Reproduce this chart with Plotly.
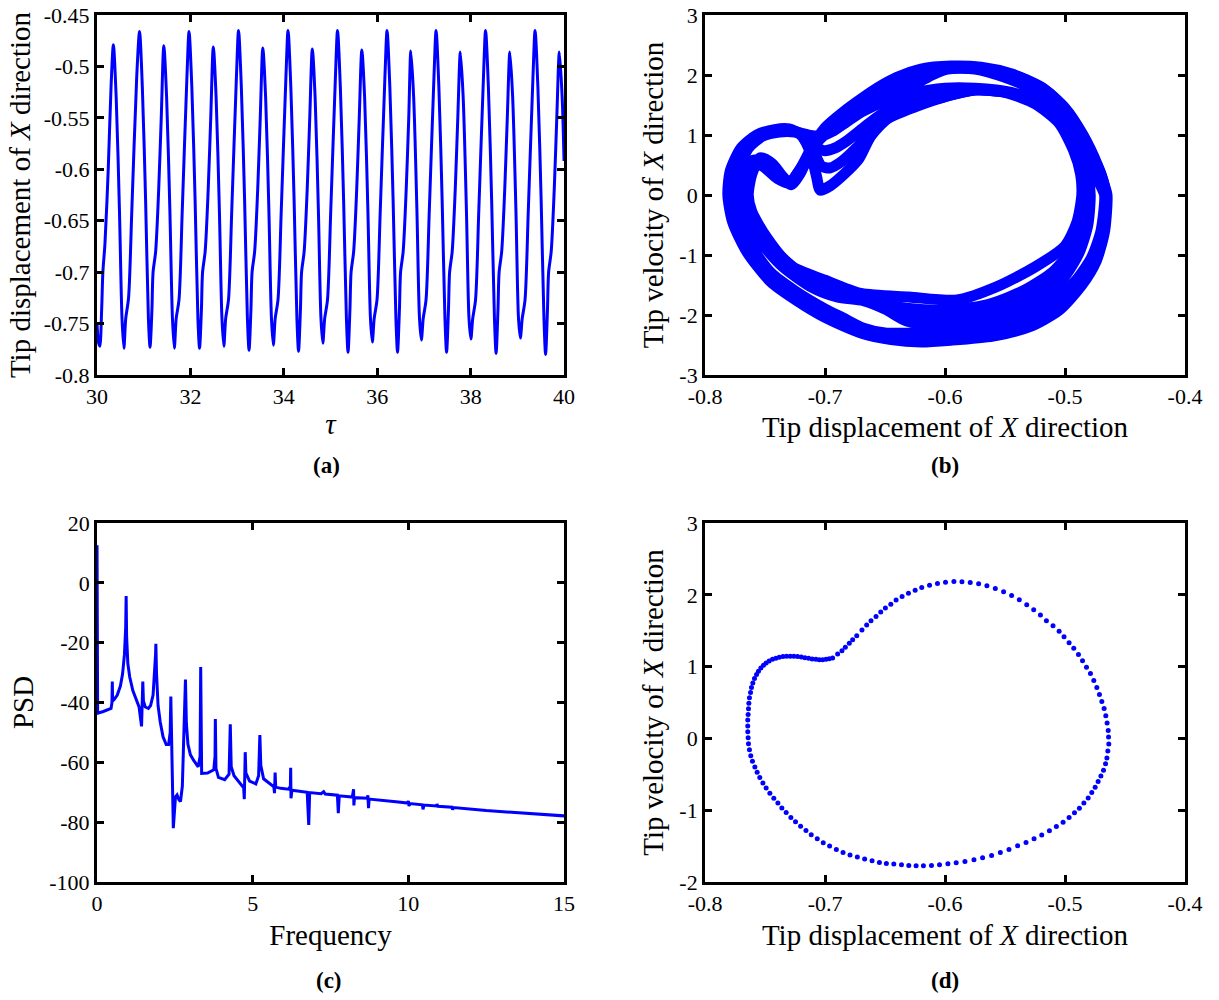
import plotly.graph_objects as go

BLUE = "#0000ff"
FONT = "Liberation Serif"

# ---------------- (a) time history ----------------
tau_a = [
    30.00, 30.03, 30.06, 30.10, 30.125, 30.17, 30.24, 30.30, 30.35,
    30.41, 30.48, 30.535, 30.575, 30.615, 30.675, 30.745, 30.85,
    30.91, 30.97, 31.04, 31.10, 31.135, 31.175, 31.20, 31.255, 31.32, 31.375, 31.43, 31.49, 31.56, 31.615, 31.655, 31.695, 31.755, 31.825, 31.925,
    31.97, 32.03, 32.10, 32.16, 32.195, 32.235, 32.26, 32.315, 32.38, 32.435, 32.49, 32.55, 32.62, 32.675, 32.715, 32.755, 32.815, 32.885, 32.985,
    33.03, 33.09, 33.16, 33.22, 33.255, 33.295, 33.32, 33.375, 33.44, 33.495, 33.55, 33.61, 33.68, 33.735, 33.775, 33.815, 33.875, 33.945, 34.045,
    34.09, 34.15, 34.22, 34.28, 34.315, 34.355, 34.38, 34.435, 34.50, 34.555, 34.61, 34.67, 34.74, 34.795, 34.835, 34.875, 34.935, 35.005, 35.105,
    35.15, 35.21, 35.28, 35.34, 35.375, 35.415, 35.44, 35.495, 35.56, 35.615, 35.67, 35.73, 35.80, 35.855, 35.895, 35.935, 35.995, 36.065, 36.165,
    36.21, 36.27, 36.34, 36.40, 36.435, 36.475, 36.50, 36.555, 36.62, 36.675, 36.72, 36.78, 36.85, 36.905, 36.945, 36.985, 37.045, 37.115, 37.215,
    37.26, 37.32, 37.39, 37.45, 37.485, 37.525, 37.55, 37.605, 37.67, 37.725, 37.78, 37.84, 37.91, 37.965, 38.005, 38.045, 38.105, 38.175, 38.275,
    38.32, 38.38, 38.45, 38.51, 38.545, 38.585, 38.61, 38.665, 38.73, 38.785, 38.84, 38.90, 38.97, 39.025, 39.065, 39.105, 39.165, 39.235, 39.335,
    39.38, 39.44, 39.51, 39.57, 39.605, 39.645, 39.67, 39.725, 39.79, 39.845, 39.90, 39.96, 40.00,
]
disp_a = [
    -0.750, -0.768, -0.772, -0.735, -0.700, -0.672, -0.600, -0.520, -0.479,
    -0.530, -0.640, -0.745, -0.774, -0.745, -0.725, -0.640, -0.510,
    -0.466, -0.52, -0.63, -0.745, -0.773, -0.737, -0.70, -0.68, -0.62, -0.55, -0.480, -0.53, -0.64, -0.745, -0.774, -0.745, -0.727, -0.64, -0.51,
    -0.466, -0.52, -0.63, -0.745, -0.774, -0.737, -0.70, -0.68, -0.62, -0.55, -0.481, -0.53, -0.64, -0.745, -0.772, -0.745, -0.727, -0.64, -0.51,
    -0.465, -0.52, -0.63, -0.745, -0.776, -0.737, -0.70, -0.68, -0.62, -0.55, -0.482, -0.53, -0.64, -0.745, -0.771, -0.745, -0.727, -0.64, -0.51,
    -0.465, -0.52, -0.63, -0.745, -0.777, -0.737, -0.70, -0.68, -0.62, -0.55, -0.483, -0.53, -0.64, -0.745, -0.769, -0.745, -0.727, -0.64, -0.51,
    -0.465, -0.52, -0.63, -0.745, -0.778, -0.737, -0.70, -0.68, -0.62, -0.55, -0.484, -0.53, -0.64, -0.745, -0.768, -0.745, -0.727, -0.64, -0.51,
    -0.465, -0.52, -0.63, -0.745, -0.778, -0.737, -0.70, -0.68, -0.62, -0.55, -0.485, -0.53, -0.64, -0.745, -0.766, -0.745, -0.727, -0.64, -0.51,
    -0.465, -0.52, -0.63, -0.745, -0.778, -0.737, -0.70, -0.68, -0.62, -0.55, -0.486, -0.53, -0.64, -0.745, -0.765, -0.745, -0.727, -0.64, -0.51,
    -0.465, -0.52, -0.63, -0.745, -0.779, -0.737, -0.70, -0.68, -0.62, -0.55, -0.486, -0.53, -0.64, -0.745, -0.764, -0.745, -0.727, -0.64, -0.51,
    -0.465, -0.52, -0.63, -0.745, -0.780, -0.737, -0.70, -0.68, -0.62, -0.55, -0.486, -0.53, -0.592,
]

# ---------------- (b) phase portrait: four read-off orbits ----------------
b_early_x = [
    -0.467, -0.470, -0.478, -0.492, -0.512, -0.540, -0.570, -0.600, -0.625, -0.650, -0.668, -0.685, -0.700, -0.725, -0.745, -0.760, -0.771, -0.774,
    -0.772, -0.764, -0.752, -0.738, -0.725, -0.714, -0.704, -0.694, -0.682, -0.668, -0.650, -0.628, -0.600, -0.575, -0.545, -0.520, -0.500, -0.488, -0.481, -0.479,
    -0.481, -0.488, -0.500, -0.520, -0.545, -0.575, -0.610, -0.632, -0.650, -0.668, -0.690, -0.710, -0.735, -0.755, -0.770, -0.776,
    -0.774, -0.766, -0.752, -0.740, -0.730, -0.720, -0.708, -0.695, -0.680, -0.660, -0.640, -0.624, -0.610, -0.598, -0.575, -0.550, -0.525, -0.505, -0.490, -0.478, -0.470, -0.467,
]
b_early_v = [
    0.0, -0.60, -1.05, -1.45, -1.80, -2.05, -2.20, -2.28, -2.30, -2.30, -2.22, -2.05, -1.90, -1.60, -1.30, -0.90, -0.40, 0.0,
    0.40, 0.78, 0.98, 1.05, 1.05, 1.00, 0.98, 1.06, 1.22, 1.40, 1.56, 1.69, 1.78, 1.78, 1.71, 1.53, 1.20, 0.75, 0.35, 0.0,
    -0.50, -0.95, -1.35, -1.70, -1.95, -2.08, -2.14, -2.10, -1.90, -1.76, -1.70, -1.55, -1.20, -0.75, -0.30, 0.0,
    0.35, 0.55, 0.48, 0.28, 0.20, 0.45, 0.85, 1.10, 1.32, 1.55, 1.72, 1.86, 2.01, 2.10, 2.10, 1.96, 1.74, 1.40, 0.98, 0.50, 0.15, 0.0,
]
b_mid_x = [
    -0.466, -0.468, -0.476, -0.489, -0.508, -0.535, -0.565, -0.598, -0.622, -0.648, -0.672, -0.700, -0.725, -0.745, -0.762, -0.774, -0.777,
    -0.775, -0.767, -0.755, -0.740, -0.728, -0.717, -0.709, -0.701, -0.692, -0.682, -0.668, -0.652, -0.628, -0.600, -0.575, -0.548, -0.522, -0.502, -0.490, -0.484, -0.482,
    -0.486, -0.494, -0.510, -0.535, -0.565, -0.600, -0.635, -0.665, -0.690, -0.715, -0.738, -0.755, -0.766, -0.770,
    -0.767, -0.760, -0.748, -0.737, -0.729, -0.720, -0.710, -0.697, -0.682, -0.665, -0.648, -0.630, -0.608, -0.585, -0.560, -0.535, -0.512, -0.495, -0.481, -0.470, -0.466,
]
b_mid_v = [
    0.0, -0.60, -1.08, -1.48, -1.86, -2.12, -2.27, -2.34, -2.37, -2.35, -2.24, -2.00, -1.68, -1.38, -0.92, -0.42, 0.0,
    0.40, 0.78, 1.00, 1.08, 1.08, 0.98, 0.82, 0.74, 0.78, 0.90, 1.12, 1.36, 1.56, 1.68, 1.76, 1.71, 1.52, 1.20, 0.75, 0.35, 0.0,
    -0.50, -0.90, -1.28, -1.60, -1.83, -1.92, -1.88, -1.72, -1.55, -1.38, -1.00, -0.60, -0.20, 0.0,
    0.33, 0.58, 0.52, 0.30, 0.19, 0.40, 0.80, 1.10, 1.35, 1.58, 1.80, 1.99, 2.10, 2.14, 2.08, 1.94, 1.68, 1.30, 0.80, 0.35, 0.0,
]
b_late_x = [
    -0.465, -0.467, -0.474, -0.486, -0.505, -0.530, -0.560, -0.595, -0.620, -0.645, -0.670, -0.700, -0.725, -0.745, -0.765, -0.777, -0.781,
    -0.779, -0.770, -0.757, -0.742, -0.730, -0.720, -0.712, -0.707, -0.704, -0.696, -0.684, -0.672, -0.662, -0.648, -0.625, -0.600, -0.575, -0.550, -0.525, -0.505, -0.493, -0.487, -0.486,
    -0.490, -0.500, -0.525, -0.557, -0.590, -0.630, -0.670, -0.700, -0.729, -0.749, -0.761, -0.764,
    -0.761, -0.754, -0.744, -0.735, -0.728, -0.721, -0.712, -0.700, -0.685, -0.670, -0.655, -0.640, -0.620, -0.595, -0.570, -0.545, -0.520, -0.500, -0.485, -0.473, -0.467, -0.465,
]
b_late_v = [
    0.0, -0.60, -1.10, -1.50, -1.92, -2.20, -2.35, -2.42, -2.45, -2.41, -2.30, -2.04, -1.74, -1.45, -0.95, -0.45, 0.0,
    0.40, 0.78, 1.00, 1.09, 1.10, 1.00, 0.70, 0.30, 0.08, 0.15, 0.35, 0.60, 0.98, 1.27, 1.47, 1.64, 1.75, 1.71, 1.52, 1.20, 0.75, 0.35, 0.0,
    -0.45, -0.85, -1.20, -1.53, -1.75, -1.70, -1.64, -1.42, -1.18, -0.70, -0.28, 0.0,
    0.35, 0.62, 0.52, 0.30, 0.17, 0.35, 0.75, 1.12, 1.38, 1.60, 1.80, 1.96, 2.10, 2.15, 2.13, 2.02, 1.80, 1.45, 1.00, 0.50, 0.15, 0.0,
]
b_q_x = [
    -0.466, -0.469, -0.477, -0.490, -0.510, -0.537, -0.567, -0.600, -0.623, -0.648, -0.671, -0.695, -0.718, -0.742, -0.760, -0.772, -0.776,
    -0.774, -0.766, -0.754, -0.740, -0.727, -0.716, -0.709, -0.703, -0.696, -0.686, -0.674, -0.662, -0.647, -0.626, -0.600, -0.575, -0.548, -0.522, -0.503, -0.490, -0.484, -0.483,
    -0.484, -0.491, -0.505, -0.527, -0.555, -0.588, -0.620, -0.640, -0.662, -0.688, -0.712, -0.737, -0.756, -0.768, -0.772,
    -0.772, -0.764, -0.751, -0.739, -0.730, -0.721, -0.710, -0.697, -0.682, -0.664, -0.646, -0.630, -0.610, -0.590, -0.566, -0.542, -0.518, -0.500, -0.486, -0.474, -0.468, -0.466,
]
b_q_v = [
    0.0, -0.62, -1.10, -1.52, -1.90, -2.18, -2.33, -2.40, -2.42, -2.39, -2.28, -2.06, -1.78, -1.42, -1.00, -0.48, 0.0,
    0.40, 0.78, 0.99, 1.07, 1.07, 0.96, 0.70, 0.48, 0.45, 0.56, 0.78, 1.05, 1.32, 1.50, 1.64, 1.75, 1.71, 1.52, 1.20, 0.75, 0.35, 0.0,
    -0.50, -0.93, -1.32, -1.66, -1.90, -2.02, -2.03, -1.92, -1.76, -1.66, -1.48, -1.10, -0.68, -0.25, 0.0,
    0.34, 0.56, 0.50, 0.29, 0.20, 0.42, 0.82, 1.10, 1.34, 1.57, 1.78, 1.96, 2.08, 2.12, 2.08, 1.92, 1.66, 1.34, 0.90, 0.45, 0.12, 0.0,
]

# ---------------- (c) PSD ----------------
freq_c = [
    0.0, 0.02, 0.2, 0.45, 0.48, 0.49, 0.50, 0.55, 0.65, 0.75, 0.82, 0.88, 0.92, 0.935, 0.95, 0.99, 1.05, 1.15, 1.25, 1.35,
    1.43, 1.46, 1.47, 1.49, 1.55, 1.65, 1.72, 1.80, 1.85, 1.88, 1.89, 1.91, 1.96, 2.03, 2.12, 2.22, 2.30, 2.35, 2.37, 2.40,
    2.45, 2.52, 2.57, 2.63, 2.68, 2.74, 2.80, 2.84, 2.87, 2.92, 3.0, 3.1, 3.25, 3.31, 3.33, 3.345, 3.36, 3.55, 3.75, 3.79,
    3.80, 3.82, 3.9, 4.1, 4.24, 4.28, 4.31, 4.4, 4.6, 4.71, 4.73, 4.75, 4.76, 4.78, 4.9, 5.1, 5.19, 5.23, 5.26, 5.35,
    5.55, 5.68, 5.70, 5.71, 5.72, 5.74, 5.9, 6.15, 6.21, 6.22, 6.23, 6.26, 6.5, 6.75, 6.80, 6.83, 7.2, 7.28, 7.33, 7.72,
    7.75, 7.78, 8.2, 8.24, 8.25, 8.27, 8.68, 8.70, 8.72, 8.74, 9.6, 9.98, 10.0, 10.02, 10.05, 10.45, 10.47, 10.5, 10.9, 10.92,
    10.95, 11.4, 11.42, 11.45, 12.5, 13.5, 15.0,
]
psd_c = [
    12.6, -43.6, -43.0, -42.0, -40.0, -33.0, -39.5, -39.0, -37.5, -34.5, -30.5, -24.0, -15.0, -4.4, -18.0, -27.0, -31.5, -36.0, -39.0, -41.5,
    -48.0, -38.0, -33.0, -39.5, -41.5, -42.0, -41.0, -37.5, -31.0, -24.0, -20.4, -30.0, -41.0, -46.5, -51.5, -54.0, -54.0, -50.0, -38.0, -52.0,
    -82.0, -71.5, -70.9, -72.5, -73.1, -68.0, -50.0, -32.3, -47.0, -54.0, -57.5, -59.3, -61.5, -58.0, -28.1, -62.5, -63.7, -63.6, -62.5, -58.0,
    -45.5, -62.0, -65.0, -65.8, -64.0, -47.3, -61.5, -64.5, -67.0, -68.5, -72.3, -66.0, -56.6, -63.5, -66.3, -67.2, -64.5, -50.9, -61.0, -65.5,
    -67.3, -68.2, -70.3, -68.0, -63.4, -68.3, -68.7, -69.0, -68.0, -61.8, -72.0, -69.3, -69.6, -70.0, -80.9, -70.1, -70.5, -69.8, -70.6, -71.0,
    -77.0, -71.2, -71.6, -69.0, -74.4, -71.8, -72.0, -71.0, -75.3, -72.3, -73.2, -73.6, -72.9, -74.6, -73.8, -74.2, -75.7, -74.3, -74.6, -74.0,
    -74.7, -75.0, -75.8, -75.1, -76.1, -76.9, -77.9,
]

# ---------------- (d) periodic orbit (dots) ----------------
d_x = [
    -0.6937, -0.6895, -0.6859, -0.6831, -0.6798, -0.6770, -0.6736, -0.6692, -0.6653, -0.6617,
    -0.6575, -0.6536, -0.6497, -0.6452, -0.6408, -0.6358, -0.6305, -0.6249, -0.6194, -0.6129,
    -0.6063, -0.5996, -0.5926, -0.5859, -0.5790, -0.5720, -0.5651, -0.5581, -0.5512, -0.5445,
    -0.5381, -0.5319, -0.5261, -0.5205, -0.5155, -0.5100, -0.5049, -0.5008, -0.4966, -0.4927,
    -0.4888, -0.4854, -0.4821, -0.4788, -0.4760, -0.4735, -0.4713, -0.4693, -0.4674, -0.4660,
    -0.4649, -0.4640, -0.4637, -0.4635, -0.4643, -0.4651, -0.4662, -0.4679, -0.4701, -0.4724,
    -0.4749, -0.4777, -0.4807, -0.4843, -0.4880, -0.4921, -0.4966, -0.5016, -0.5072, -0.5130,
    -0.5194, -0.5258, -0.5325, -0.5395, -0.5467, -0.5539, -0.5612, -0.5687, -0.5759, -0.5834,
    -0.5907, -0.5976, -0.6046, -0.6113, -0.6180, -0.6241, -0.6302, -0.6363, -0.6427, -0.6489,
    -0.6547, -0.6608, -0.6670, -0.6731, -0.6792, -0.6850, -0.6906, -0.6962, -0.7015, -0.7065,
    -0.7115, -0.7159, -0.7204, -0.7246, -0.7285, -0.7324, -0.7360, -0.7393, -0.7427, -0.7460,
    -0.7491, -0.7518, -0.7544, -0.7566, -0.7585, -0.7605, -0.7619, -0.7630, -0.7638, -0.7641,
    -0.7644, -0.7644, -0.7644, -0.7641, -0.7638, -0.7635, -0.7630, -0.7621, -0.7613, -0.7602,
    -0.7588, -0.7571, -0.7555, -0.7535, -0.7513, -0.7491, -0.7466, -0.7438, -0.7410, -0.7382,
    -0.7351, -0.7321, -0.7290, -0.7260, -0.7229, -0.7198, -0.7168, -0.7137, -0.7107, -0.7076,
    -0.7048, -0.7020, -0.6992, -0.6965,
]
d_v = [
    1.120, 1.176, 1.222, 1.269, 1.324, 1.375, 1.431, 1.509, 1.579, 1.639,
    1.699, 1.759, 1.815, 1.870, 1.926, 1.977, 2.023, 2.065, 2.102, 2.134,
    2.157, 2.176, 2.185, 2.181, 2.171, 2.153, 2.125, 2.088, 2.042, 1.991,
    1.931, 1.861, 1.792, 1.718, 1.639, 1.569, 1.491, 1.417, 1.333, 1.255,
    1.167, 1.083, 0.991, 0.903, 0.806, 0.708, 0.611, 0.514, 0.417, 0.315,
    0.213, 0.111, 0.019, -0.079, -0.176, -0.273, -0.352, -0.444, -0.523, -0.602,
    -0.681, -0.755, -0.829, -0.898, -0.972, -1.037, -1.102, -1.167, -1.227, -1.287,
    -1.347, -1.398, -1.449, -1.495, -1.546, -1.588, -1.630, -1.662, -1.690, -1.713,
    -1.731, -1.745, -1.759, -1.769, -1.773, -1.773, -1.769, -1.759, -1.750, -1.741,
    -1.727, -1.704, -1.681, -1.653, -1.625, -1.588, -1.546, -1.500, -1.454, -1.398,
    -1.343, -1.282, -1.222, -1.162, -1.102, -1.032, -0.968, -0.898, -0.833, -0.764,
    -0.690, -0.620, -0.546, -0.472, -0.398, -0.319, -0.241, -0.157, -0.074, 0.009,
    0.093, 0.171, 0.255, 0.333, 0.412, 0.491, 0.565, 0.639, 0.708, 0.773,
    0.833, 0.889, 0.935, 0.981, 1.019, 1.051, 1.079, 1.102, 1.116, 1.130,
    1.139, 1.144, 1.144, 1.144, 1.139, 1.134, 1.125, 1.116, 1.106, 1.102,
    1.097, 1.097, 1.102, 1.111,
]

# ---------------- ticks ----------------
a_xticks = [30, 32, 34, 36, 38, 40]
a_yticks = [-0.8, -0.75, -0.7, -0.65, -0.6, -0.55, -0.5, -0.45]
a_yticklabels = ["-0.8", "-0.75", "-0.7", "-0.65", "-0.6", "-0.55", "-0.5", "-0.45"]
disp_ticks = [-0.8, -0.7, -0.6, -0.5, -0.4]
disp_ticklabels = ["-0.8", "-0.7", "-0.6", "-0.5", "-0.4"]
b_yticks = [-3, -2, -1, 0, 1, 2, 3]
b_yticklabels = ["-3", "-2", "-1", "0", "1", "2", "3"]
c_xticks = [0, 5, 10, 15]
c_yticks = [-100, -80, -60, -40, -20, 0, 20]
c_yticklabels = ["-100", "-80", "-60", "-40", "-20", "0", "20"]
d_yticks = [-2, -1, 0, 1, 2, 3]
d_yticklabels = ["-2", "-1", "0", "1", "2", "3"]

panel_labels = ["(a)", "(b)", "(c)", "(d)"]

fig = go.Figure()
fig.add_trace(go.Scatter(x=tau_a, y=disp_a, mode="lines",
                         line=dict(color=BLUE, width=3, shape="spline", smoothing=0.8),
                         xaxis="x", yaxis="y", showlegend=False))
for bx, bv in [(b_early_x, b_early_v), (b_mid_x, b_mid_v), (b_q_x, b_q_v), (b_late_x, b_late_v)]:
    fig.add_trace(go.Scatter(x=bx, y=bv, mode="lines",
                             line=dict(color=BLUE, width=11, shape="spline", smoothing=0.7),
                             xaxis="x2", yaxis="y2", showlegend=False))
fig.add_trace(go.Scatter(x=freq_c, y=psd_c, mode="lines",
                         line=dict(color=BLUE, width=3),
                         xaxis="x3", yaxis="y3", showlegend=False))
fig.add_trace(go.Scatter(x=d_x, y=d_v, mode="markers",
                         marker=dict(color=BLUE, size=5),
                         xaxis="x4", yaxis="y4", showlegend=False))

tickfont = dict(family=FONT, size=22, color="black")
titlefont = dict(family=FONT, size=29, color="black")


def ax(domain, rng, tv, tt, title, anchor, standoff):
    return dict(domain=domain, range=rng, tickvals=tv, ticktext=tt,
                showline=True, linecolor="black", linewidth=3, mirror="allticks",
                ticks="inside", ticklen=7, tickwidth=3, tickcolor="black",
                showgrid=False, zeroline=False, tickfont=tickfont,
                title=dict(text=title, font=titlefont, standoff=standoff),
                anchor=anchor, automargin=False)


XL = [0.0796, 0.4627]
XR = [0.5784, 0.9721]
YT = [0.625, 0.985]
YB = [0.118, 0.477]

fig.update_layout(
    width=1219, height=1000,
    margin=dict(l=0, r=0, t=0, b=0),
    paper_bgcolor="white", plot_bgcolor="white",
    font=dict(family=FONT, color="black"),
    xaxis=ax(XL, [30, 40], a_xticks, [str(t) for t in a_xticks], "<i>τ</i>", "y", 6),
    yaxis=ax(YT, [-0.8, -0.45], a_yticks, a_yticklabels, "Tip displacement of <i>X</i> direction", "x", 5),
    xaxis2=ax(XR, [-0.8, -0.4], disp_ticks, disp_ticklabels, "Tip displacement of <i>X</i> direction", "y2", 9),
    yaxis2=ax(YT, [-3, 3], b_yticks, b_yticklabels, "Tip velocity of <i>X</i> direction", "x2", 8),
    xaxis3=ax(XL, [0, 15], c_xticks, [str(t) for t in c_xticks], "Frequency", "y3", 10),
    yaxis3=ax(YB, [-100, 20], c_yticks, c_yticklabels, "PSD", "x3", 8),
    xaxis4=ax(XR, [-0.8, -0.4], disp_ticks, disp_ticklabels, "Tip displacement of <i>X</i> direction", "y4", 10),
    yaxis4=ax(YB, [-2, 3], d_yticks, d_yticklabels, "Tip velocity of <i>X</i> direction", "x4", 8),
)

label_pos = [(327 / 1219, 1 - 465 / 1000), (945 / 1219, 1 - 465 / 1000),
             (329 / 1219, 1 - 980 / 1000), (945 / 1219, 1 - 980 / 1000)]
for txt, (px, py) in zip(panel_labels, label_pos):
    fig.add_annotation(text="<b>" + txt + "</b>", x=px, y=py, xref="paper", yref="paper",
                       showarrow=False, font=dict(family=FONT, size=23, color="black"),
                       xanchor="center", yanchor="middle")

fig.write_html("out.html", config={"displayModeBar": False},
               post_script="document.body.style.margin='0';")
